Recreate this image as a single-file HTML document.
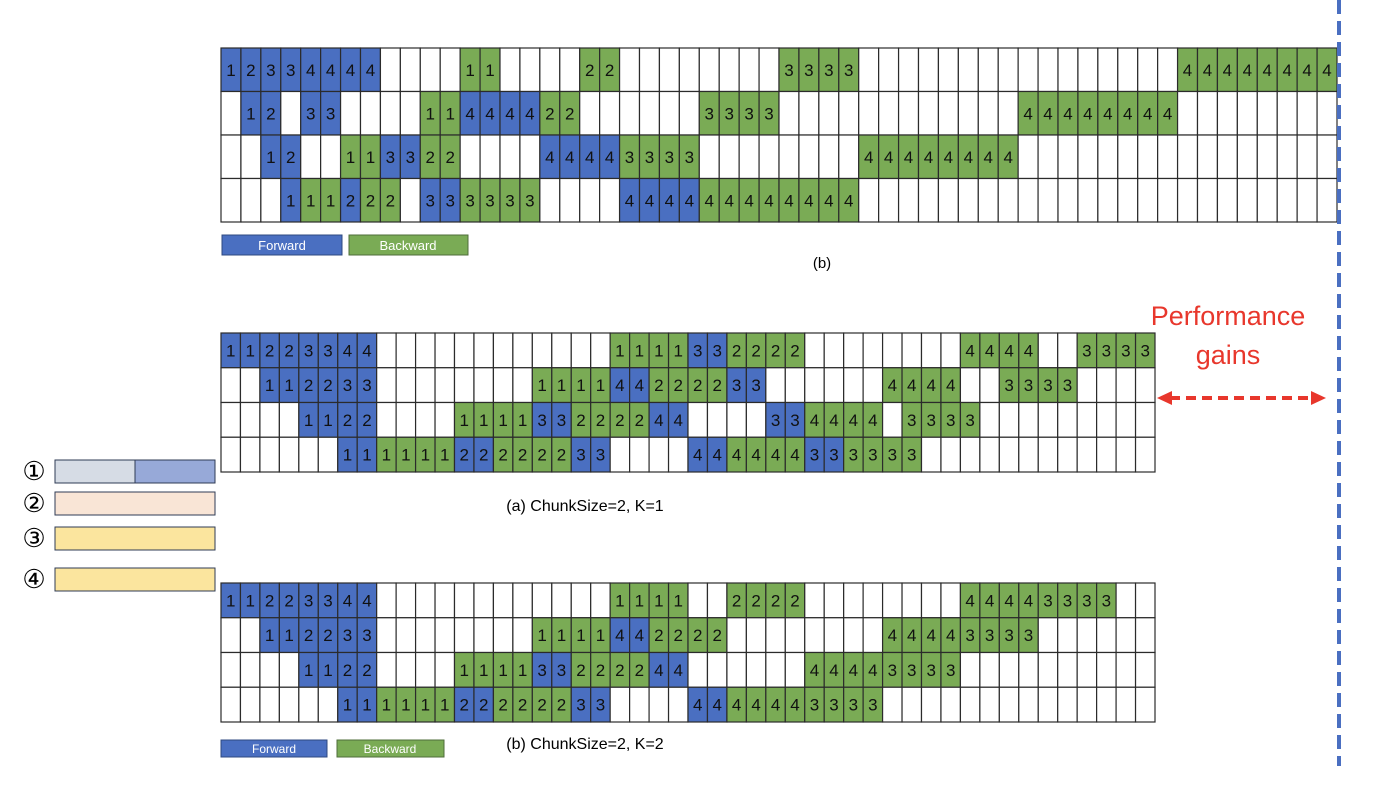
<!DOCTYPE html>
<html><head><meta charset="utf-8"><style>
html,body{margin:0;padding:0;background:#fff;width:1380px;height:810px;overflow:hidden}
svg{display:block}
text{font-family:"Liberation Sans",sans-serif}
</style></head><body>
<svg id="s" width="1380" height="810" viewBox="0 0 1380 810">
<g id="grids"></g>
<g>
<rect x="222" y="235" width="120" height="20" fill="#4a6fc1" stroke="#2f4a80"/>
<text x="282" y="250" font-size="13" fill="#fff" text-anchor="middle">Forward</text>
<rect x="349" y="235" width="119" height="20" fill="#7aab55" stroke="#4f6e3a"/>
<text x="408" y="250" font-size="13" fill="#fff" text-anchor="middle">Backward</text>
</g>
<text x="822" y="268" font-size="15" text-anchor="middle">(b)</text>
<text x="585" y="511" font-size="16" text-anchor="middle">(a) ChunkSize=2, K=1</text>
<g>
<rect x="221" y="740" width="106" height="17" fill="#4a6fc1" stroke="#2f4a80"/>
<text x="274" y="753" font-size="12" fill="#fff" text-anchor="middle">Forward</text>
<rect x="337" y="740" width="107" height="17" fill="#7aab55" stroke="#4f6e3a"/>
<text x="390" y="753" font-size="12" fill="#fff" text-anchor="middle">Backward</text>
</g>
<text x="585" y="749" font-size="16" text-anchor="middle">(b) ChunkSize=2, K=2</text>
<g stroke="#2f3b55" stroke-width="1">
<rect x="55" y="460" width="80" height="23" fill="#d6dce5"/>
<rect x="135" y="460" width="80" height="23" fill="#97a9d8"/>
<rect x="55" y="492" width="160" height="23" fill="#f9e5d6"/>
<rect x="55" y="527" width="160" height="23" fill="#fbe59e"/>
<rect x="55" y="568" width="160" height="23" fill="#fbe59e"/>
</g>
<g font-size="26" text-anchor="middle" font-family="'DejaVu Sans',sans-serif" font-weight="200">
<text x="34" y="480">①</text>
<text x="34" y="512">②</text>
<text x="34" y="547">③</text>
<text x="34" y="588">④</text>
</g>
<g fill="#e8372c">
<text x="1228" y="325" font-size="27" text-anchor="middle">Performance</text>
<text x="1228" y="364" font-size="27" text-anchor="middle">gains</text>
<line x1="1170" y1="398" x2="1313" y2="398" stroke="#e8372c" stroke-width="4" stroke-dasharray="10,6"/>
<polygon points="1157,398 1172,391 1172,405"/>
<polygon points="1326,398 1311,391 1311,405"/>
</g>
<line x1="1339" y1="0" x2="1339" y2="766" stroke="#4a6fc1" stroke-width="4" stroke-dasharray="14,7"/>
</svg>
<script>
const topRows = [
"F1,F2,F3x2,F4x4,_x4,B1x2,_x4,B2x2,_x8,B3x4,_x16,B4x8",
"_,F1,F2,_,F3x2,_x4,B1x2,F4x4,B2x2,_x6,B3x4,_x12,B4x8,_x8",
"_x2,F1,F2,_x2,B1x2,F3x2,B2x2,_x4,F4x4,B3x4,_x8,B4x8,_x16",
"_x3,F1,B1x2,F2,B2x2,_,F3x2,B3x4,_x4,F4x4,B4x8,_x24"];
const midRows = [
"F1x2,F2x2,F3x2,F4x2,_x12,B1x4,F3x2,B2x4,_x8,B4x4,_x2,B3x4",
"_x2,F1x2,F2x2,F3x2,_x8,B1x4,F4x2,B2x4,F3x2,_x6,B4x4,_x2,B3x4,_x4",
"_x4,F1x2,F2x2,_x4,B1x4,F3x2,B2x4,F4x2,_x4,F3x2,B4x4,_,B3x4,_x9",
"_x6,F1x2,B1x4,F2x2,B2x4,F3x2,_x4,F4x2,B4x4,F3x2,B3x4,_x12"];
const botRows = [
"F1x2,F2x2,F3x2,F4x2,_x12,B1x4,_x2,B2x4,_x8,B4x4,B3x4,_x2",
"_x2,F1x2,F2x2,F3x2,_x8,B1x4,F4x2,B2x4,_x8,B4x4,B3x4,_x6",
"_x4,F1x2,F2x2,_x4,B1x4,F3x2,B2x4,F4x2,_x6,B4x4,B3x4,_x10",
"_x6,F1x2,B1x4,F2x2,B2x4,F3x2,_x4,F4x2,B4x4,B3x4,_x14"];
const NS="http://www.w3.org/2000/svg";
const COL={F:"#4a6fc1",B:"#7aab55",_:"#ffffff"};
function expand(s){const out=[];s.split(",").forEach(t=>{const m=t.split("x");const n=m[1]?+m[1]:1;for(let i=0;i<n;i++)out.push(m[0]);});return out;}
function draw(rows,x0,y0,x1,y1,fs,name){
  const g=document.getElementById("grids");
  const grp=document.createElementNS(NS,"g");
  
  
  g.appendChild(grp);
  const cells=rows.map(expand);
  const n=cells[0].length, cw=(x1-x0)/n, rh=(y1-y0)/rows.length;
  cells.forEach((row,r)=>row.forEach((c,i)=>{
    const x=x0+i*cw,y=y0+r*rh;
    const rc=document.createElementNS(NS,"rect");
    rc.setAttribute("x",x);rc.setAttribute("y",y);rc.setAttribute("width",cw);rc.setAttribute("height",rh);
    rc.setAttribute("fill",COL[c[0]]);rc.setAttribute("stroke","#2b2b2b");rc.setAttribute("stroke-width","1.2");
    
    
    grp.appendChild(rc);
    if(c[0]!=="_"){
      const t=document.createElementNS(NS,"text");
      t.setAttribute("x",x+cw/2);t.setAttribute("y",y+rh/2+fs*0.36);
      t.setAttribute("font-size",fs);t.setAttribute("text-anchor","middle");t.setAttribute("fill","#111");
      
      
      t.textContent=c.slice(1);grp.appendChild(t);
    }
  }));
}
draw(topRows,221,48,1337,222,17,"top-schedule-grid");
draw(midRows,221,333,1155,472,17,"middle-schedule-grid");
draw(botRows,221,583,1155,722,17,"bottom-schedule-grid");
</script>
</body></html>
